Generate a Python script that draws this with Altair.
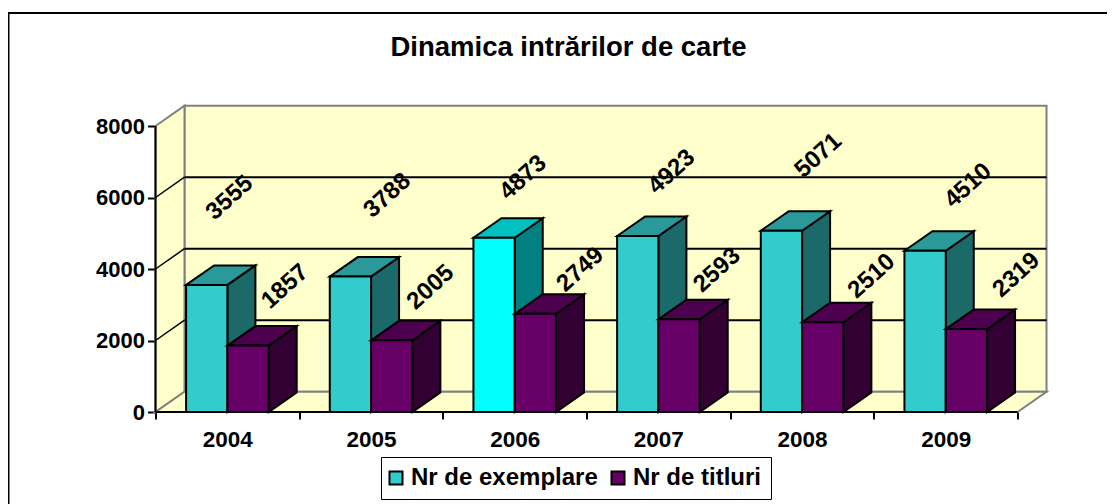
import altair as alt
import pandas as pd

years = ["2004", "2005", "2006", "2007", "2008", "2009"]
exemplare = [3555, 3788, 4873, 4923, 5071, 4510]
titluri = [1857, 2005, 2749, 2593, 2510, 2319]
series_names = ["Nr de exemplare", "Nr de titluri"]
y_ticks = [0, 2000, 4000, 6000, 8000]

# styles and geometry
FONT = "Liberation Sans"
PX_X = 143.67          # px per category
PX_Y = 71.5 / 2000     # px per value unit
PLOT_W, PLOT_H = 892, 307
WALL_DX, WALL_DY = 29 / PX_X, 20.3 / PX_Y
BAR_DX, BAR_DY = 28 / PX_X, 19.5 / PX_Y
BAR_W = 41.3 / PX_X
BAR_START = 30.6 / PX_X
TEAL = dict(front="#33CCCC", side="#1B6969", top="#299999")
CYAN = dict(front="#00FFFF", side="#008080", top="#00C0C0")
PURPLE = dict(front="#660066", side="#330033", top="#4D004D")
# where each value label sits relative to its bar's top, px
lab_dx_e = [23, 37, 29, 34, 37, 43]
lab_up_e = [87, 81, 60, 64, 75, 65]
lab_dx_t = [37, 39, 45, 38, 49, 50]
lab_up_t = [59, 53, 44, 49, 46, 54]

rows_front, rows_side, rows_top, rows_label = [], [], [], []
for s, (name, vals) in enumerate(zip(series_names, [exemplare, titluri])):
    for i, (yr, v) in enumerate(zip(years, vals)):
        pal = PURPLE if s else (CYAN if yr == "2006" else TEAL)
        x0 = i + BAR_START + s * BAR_W
        x1 = x0 + BAR_W
        rows_front.append(dict(layer=s, year=yr, series=name, highlight=pal is CYAN,
                               x=x0, x2=x1, y=v, y2=0))
        for x, a, b in [(x1, v, 0), (x1 + BAR_DX, v + BAR_DY, BAR_DY)]:
            rows_side.append(dict(layer=s, year=yr, fill=pal["side"], x=x, y=a, y2=b))
        for x, a, b in [(x0, v, v), (x0 + BAR_DX, v + BAR_DY, v),
                        (x1, v + BAR_DY, v), (x1 + BAR_DX, v + BAR_DY, v + BAR_DY)]:
            rows_top.append(dict(layer=s, year=yr, fill=pal["top"], x=x, y=a, y2=b))
        dx = (lab_dx_t if s else lab_dx_e)[i] / PX_X
        up = (lab_up_t if s else lab_up_e)[i] / PX_Y
        rows_label.append(dict(x=(x0 + x1) / 2 + dx, y=v + up, text=str(v)))

front = pd.DataFrame(rows_front)
side = pd.DataFrame(rows_side)
top = pd.DataFrame(rows_top)
labels = pd.DataFrame(rows_label)

sx = alt.Scale(domain=[0, PLOT_W / PX_X], range=[0, PLOT_W], nice=False, zero=False)
sy = alt.Scale(domain=[0, PLOT_H / PX_Y], range=[PLOT_H, 0], nice=False, zero=False)

y_axis = alt.Axis(values=y_ticks, title=None, domain=False, grid=False, labelFont=FONT, labelFontSize=22,
                  labelFontWeight="bold", labelColor="black", tickColor="black", tickWidth=2, tickSize=8,
                  labelPadding=3, format="d", labelFlush=False, labelOverlap=False)
x_axis = alt.Axis(values=[n / 2 for n in range(13)], title=None, domain=False, grid=False, labelFont=FONT,
                  labelFontSize=22.5, labelFontWeight="bold", labelColor="black", tickWidth=2, tickSize=7,
                  tickColor={"condition": {"test": "datum.value % 1 != 0", "value": "transparent"}, "value": "black"},
                  labelExpr=f"datum.value % 1 != 0 ? {years}[floor(datum.value)] : ''",
                  labelPadding=9, labelOverlap=False, labelFlush=False)
X = alt.X("x:Q", scale=sx, axis=x_axis)
Y = alt.Y("y:Q", scale=sy, axis=y_axis, stack=None)

# frame of the chart
frame = pd.DataFrame({"a": [0]})
frame_mark = alt.Chart(frame).mark_rect(fill="transparent", stroke="black", strokeWidth=2).encode(
    x=alt.value(-147), x2=alt.value(1200), y=alt.value(-92), y2=alt.value(600))

# walls & floor
def poly(points, color, stroke):
    df = pd.DataFrame([dict(x=x, y=a, y2=b) for x, a, b in points])
    return alt.Chart(df).mark_area(color=color, stroke=stroke, strokeWidth=2).encode(
        x=X, y=Y, y2="y2:Q")

left_wall = poly([(0, 8000, 0), (WALL_DX, 8000 + WALL_DY, WALL_DY)], "#FFFFCC", "#808080")
floor = poly([(0, 0, 0), (WALL_DX, WALL_DY, 0), (6, WALL_DY, 0), (6 + WALL_DX, WALL_DY, WALL_DY)], "#FFFFCC", "#808080")
back_wall = alt.Chart(pd.DataFrame([dict(x=WALL_DX, x2=6 + WALL_DX, y=WALL_DY, y2=8000 + WALL_DY)])).mark_rect(
    fill="#FFFFCC", stroke="#808080", strokeWidth=2).encode(x=X, x2="x2:Q", y=Y, y2="y2:Q")

grid_vals = y_ticks[1:-1]
grid_back = alt.Chart(pd.DataFrame([dict(x=WALL_DX, x2=6 + WALL_DX, y=v + WALL_DY) for v in grid_vals])).mark_rule(
    color="black", strokeWidth=2).encode(x=X, x2="x2:Q", y=Y)
grid_side = alt.Chart(pd.DataFrame([dict(x=0, x2=WALL_DX, y=v, y2=v + WALL_DY) for v in grid_vals])).mark_rule(
    color="black", strokeWidth=1.5).encode(x=X, x2="x2:Q", y=Y, y2="y2:Q")

base_x = alt.Chart(pd.DataFrame([dict(x=0, x2=6, y=0)])).mark_rule(color="black", strokeWidth=2).encode(x=X, x2="x2:Q", y=Y)
base_y = alt.Chart(pd.DataFrame([dict(x=0, y=0, y2=8000)])).mark_rule(color="black", strokeWidth=2).encode(x=X, y=Y, y2="y2:Q")

legend = alt.Legend(title=None, orient="none", legendX=225.5, legendY=352, direction="horizontal", columns=2,
                    symbolType="square", symbolSize=170, symbolStrokeColor="black", symbolStrokeWidth=2,
                    labelFont=FONT, labelFontSize=24, labelFontWeight="bold", labelColor="black", labelLimit=400,
                    strokeColor="black", fillColor="white", padding=9, columnPadding=9, symbolOffset=-6, labelOffset=3)
color = alt.condition("datum.highlight", alt.value(CYAN["front"]),
                      alt.Color("series:N", scale=alt.Scale(domain=series_names, range=[TEAL["front"], PURPLE["front"]]), legend=legend))

def bar_layers(s):
    return [
        alt.Chart(side[side.layer == s]).mark_area(stroke="black", strokeWidth=2).encode(
            x=X, y=Y, y2="y2:Q", detail="year:N", fill=alt.Fill("fill:N", scale=None)),
        alt.Chart(top[top.layer == s]).mark_area(stroke="black", strokeWidth=2).encode(
            x=X, y=Y, y2="y2:Q", detail="year:N", fill=alt.Fill("fill:N", scale=None)),
        alt.Chart(front[front.layer == s]).mark_rect(stroke="black", strokeWidth=2).encode(
            x=X, x2="x2:Q", y=Y, y2="y2:Q", color=color),
    ]

text = alt.Chart(labels).mark_text(font=FONT, fontSize=24, fontWeight="bold", angle=318, color="black",
                                   align="center", baseline="middle").encode(x=X, y=Y, text="text:N")

chart = alt.layer(
    frame_mark, back_wall, left_wall, floor, grid_back, grid_side, base_y, base_x,
    *bar_layers(0), *bar_layers(1), text,
).properties(
    width=PLOT_W, height=PLOT_H,
    autosize=alt.AutoSizeParams(type="none"),
    padding={"left": 147.5, "top": 97, "right": 59.5, "bottom": 92},
    title=alt.TitleParams("Dinamica intrărilor de carte", font=FONT, fontSize=27.5, fontWeight="bold", color="black",
                          anchor="middle", frame="group", dx=-33, offset=-49),
).configure_view(stroke=None)

chart.save("out.html", embed_options={"renderer": "svg", "actions": False})
